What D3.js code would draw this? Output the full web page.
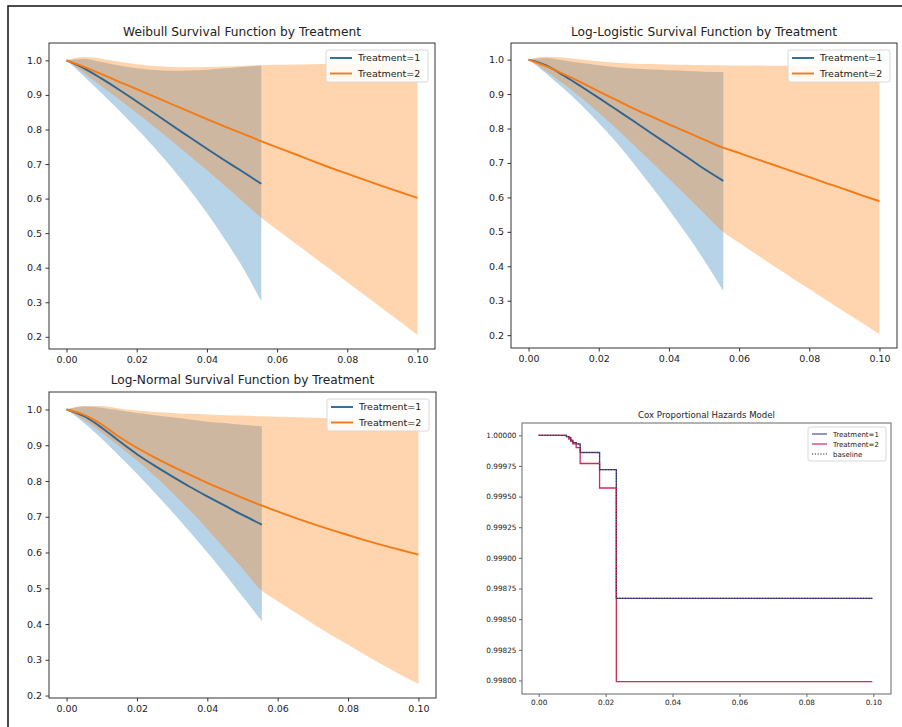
<!DOCTYPE html>
<html>
<head>
<meta charset="utf-8">
<script src="https://cdn.jsdelivr.net/npm/d3@7"></script>
<style>
  body { margin: 0; background: #fff; }
  text { font-family: "DejaVu Sans", sans-serif; fill: #222; }
</style>
</head>
<body>
<script>
// time grids (treatment 1 stops earlier)
const tT1 = [0, 0.005, 0.01, 0.015, 0.02, 0.025, 0.03, 0.035, 0.04, 0.045, 0.05, 0.0555]
const tT2 = [0, 0.005, 0.01, 0.015, 0.02, 0.025, 0.03, 0.035, 0.04, 0.045, 0.05,
             0.055, 0.06, 0.065, 0.07, 0.075, 0.08, 0.085, 0.09, 0.095, 0.1]

// Weibull
const wbT1   = [1.0, 0.977, 0.947, 0.915, 0.881, 0.847, 0.812, 0.778, 0.744, 0.711, 0.679, 0.643]
const wbT1Lo = [1.0, 0.953, 0.905, 0.855, 0.803, 0.748, 0.689, 0.626, 0.558, 0.484, 0.404, 0.302]
const wbT1Hi = [1.0, 1.005, 0.995, 0.985, 0.977, 0.972, 0.970, 0.971, 0.973, 0.977, 0.981, 0.985]
const wbT2   = [1.0, 0.981, 0.960, 0.938, 0.917, 0.895, 0.873, 0.852, 0.830, 0.809, 0.789,
                0.768, 0.748, 0.729, 0.709, 0.690, 0.672, 0.654, 0.636, 0.619, 0.602]
const wbT2Lo = [1.0, 0.963, 0.925, 0.887, 0.848, 0.808, 0.767, 0.725, 0.682, 0.638, 0.594,
                0.549, 0.510, 0.472, 0.434, 0.396, 0.358, 0.320, 0.282, 0.244, 0.205]
const wbT2Hi = [1.0, 1.010, 1.005, 0.996, 0.989, 0.984, 0.981, 0.980, 0.981, 0.982, 0.984,
                0.986, 0.987, 0.988, 0.989, 0.990, 0.990, 0.991, 0.992, 0.992, 0.993]

// Log-Logistic
const llT1   = [1.0, 0.983, 0.954, 0.922, 0.889, 0.855, 0.821, 0.786, 0.752, 0.718, 0.683, 0.648]
const llT1Lo = [1.0, 0.960, 0.916, 0.868, 0.816, 0.760, 0.698, 0.632, 0.564, 0.494, 0.418, 0.328]
const llT1Hi = [1.0, 1.005, 0.998, 0.990, 0.984, 0.978, 0.974, 0.971, 0.969, 0.967, 0.965, 0.964]
const llT2   = [1.0, 0.981, 0.958, 0.934, 0.908, 0.883, 0.858, 0.835, 0.812, 0.790, 0.768,
                0.746, 0.729, 0.711, 0.694, 0.676, 0.659, 0.641, 0.624, 0.606, 0.589]
const llT2Lo = [1.0, 0.966, 0.929, 0.889, 0.846, 0.800, 0.752, 0.703, 0.654, 0.604, 0.554,
                0.504, 0.468, 0.434, 0.400, 0.367, 0.334, 0.301, 0.268, 0.236, 0.203]
const llT2Hi = [1.0, 1.008, 1.006, 1.000, 0.995, 0.991, 0.988, 0.987, 0.986, 0.985, 0.984,
                0.984, 0.983, 0.983, 0.982, 0.982, 0.981, 0.981, 0.980, 0.980, 0.979]

// Log-Normal
const lnT1   = [1.0, 0.981, 0.949, 0.911, 0.875, 0.843, 0.813, 0.784, 0.757, 0.731, 0.705, 0.678]
const lnT1Lo = [1.0, 0.962, 0.918, 0.870, 0.820, 0.768, 0.714, 0.658, 0.600, 0.540, 0.477, 0.408]
const lnT1Hi = [1.0, 1.008, 1.005, 0.998, 0.990, 0.984, 0.978, 0.972, 0.966, 0.962, 0.957, 0.953]
const lnT2   = [1.0, 0.985, 0.958, 0.923, 0.893, 0.866, 0.841, 0.818, 0.795, 0.774, 0.753,
                0.733, 0.715, 0.697, 0.680, 0.664, 0.649, 0.634, 0.620, 0.607, 0.594]
const lnT2Lo = [1.0, 0.970, 0.935, 0.897, 0.857, 0.815, 0.768, 0.718, 0.665, 0.610, 0.555,
                0.497, 0.464, 0.432, 0.401, 0.371, 0.342, 0.313, 0.285, 0.258, 0.232]
const lnT2Hi = [1.0, 1.010, 1.010, 1.003, 0.997, 0.993, 0.990, 0.988, 0.986, 0.984, 0.983,
                0.981, 0.980, 0.978, 0.977, 0.976, 0.975, 0.973, 0.972, 0.971, 0.970]

// Cox PH step curves
const coxTimes = [0, 0.0083, 0.0090, 0.0096, 0.0102, 0.0112, 0.0124, 0.0182, 0.0232, 0.0997]
const coxT1    = [1.0, 0.99999, 0.99998, 0.99996, 0.99994, 0.99993, 0.99986, 0.99972, 0.99867, 0.99867]
const coxT2    = [1.0, 0.99999, 0.99997, 0.99995, 0.99993, 0.99990, 0.99977, 0.99957, 0.99799, 0.99799]
const coxBase  = [1.0, 0.99999, 0.99998, 0.99996, 0.99994, 0.99993, 0.99986, 0.99972, 0.99867, 0.99867]

const xTicks = [0, 0.02, 0.04, 0.06, 0.08, 0.1]
const yTicks = [0.2, 0.3, 0.4, 0.5, 0.6, 0.7, 0.8, 0.9, 1.0]
const coxYTicks = [0.998, 0.99825, 0.9985, 0.99875, 0.999, 0.99925, 0.9995, 0.99975, 1.0]
const legendLabels = ["Treatment=1", "Treatment=2"]

const blue = "#1f77b4", orange = "#ff7f0e"

const svg = d3.select("body").append("svg")
    .attr("width", 902)
    .attr("height", 727)

// outer frame of the screenshot
svg.append("rect")
    .attr("x", 8).attr("y", 6)
    .attr("width", 1000).attr("height", 1000)
    .attr("fill", "none")
    .attr("stroke", "#111")
    .attr("stroke-width", 1.5)

// matplotlib-like 5% padding
function pad(ext) {
    const m = (ext[1] - ext[0]) * 0.05
    return [ext[0] - m, ext[1] + m]
}

let clipId = 0

function axesFrame(box, x, y, opt) {
    const g = svg.append("g")
    g.append("g")
        .attr("transform", "translate(0," + box.bottom + ")")
        .call(d3.axisBottom(x).tickValues(opt.xTicks).tickFormat(opt.xFmt)
            .tickSize(opt.tick).tickPadding(opt.pad))
        .call(a => a.select(".domain").remove())
        .call(a => a.selectAll("line").attr("stroke", opt.spine))
        .call(a => a.selectAll("text").style("font-size", opt.fs + "px").attr("fill", "#222"))
    g.append("g")
        .attr("transform", "translate(" + box.left + ",0)")
        .call(d3.axisLeft(y).tickValues(opt.yTicks).tickFormat(opt.yFmt)
            .tickSize(opt.tick).tickPadding(opt.pad))
        .call(a => a.select(".domain").remove())
        .call(a => a.selectAll("line").attr("stroke", opt.spine))
        .call(a => a.selectAll("text").style("font-size", opt.fs + "px").attr("fill", "#222"))
    g.append("rect")
        .attr("x", box.left).attr("y", box.top)
        .attr("width", box.right - box.left).attr("height", box.bottom - box.top)
        .attr("fill", "none")
        .attr("stroke", opt.spine)
        .attr("stroke-width", 1)
    svg.append("text")
        .attr("x", (box.left + box.right) / 2)
        .attr("y", opt.titleY)
        .attr("text-anchor", "middle")
        .style("font-size", opt.titleFs + "px")
        .text(opt.title)
}

function legend(items, o) {
    const g = svg.append("g")
    g.append("rect")
        .attr("x", o.right - o.w).attr("y", o.top)
        .attr("width", o.w).attr("height", o.h)
        .attr("rx", 2)
        .attr("fill", "#fff").attr("fill-opacity", 0.85)
        .attr("stroke", "#d8d8d8")
    items.forEach((it, i) => {
        const cy = o.top + o.first + i * o.step
        g.append("line")
            .attr("x1", o.right - o.w + o.hx0).attr("x2", o.right - o.w + o.hx1)
            .attr("y1", cy).attr("y2", cy)
            .attr("stroke", it.color)
            .attr("stroke-width", o.lw)
            .attr("stroke-dasharray", it.dash || null)
        g.append("text")
            .attr("x", o.right - o.w + o.tx)
            .attr("y", cy + o.fs * 0.36)
            .style("font-size", o.fs + "px")
            .text(it.label)
    })
}

function survivalPanel(p) {
    const box = p.box
    const yExt = d3.extent(p.t1Lo.concat(p.t1Hi, p.t2Lo, p.t2Hi))
    const x = d3.scaleLinear().domain(pad([0, 0.1])).range([box.left, box.right])
    const y = d3.scaleLinear().domain(pad(yExt)).range([box.bottom, box.top])

    const id = "clip" + (clipId++)
    svg.append("clipPath").attr("id", id)
        .append("rect")
        .attr("x", box.left).attr("y", box.top)
        .attr("width", box.right - box.left).attr("height", box.bottom - box.top)
    const plot = svg.append("g").attr("clip-path", "url(#" + id + ")")

    const area = d3.area().curve(d3.curveMonotoneX)
        .x(d => x(d[0])).y0(d => y(d[1])).y1(d => y(d[2]))
    const line = d3.line().curve(d3.curveMonotoneX).x(d => x(d[0])).y(d => y(d[1]))

    const s1 = d3.zip(tT1, p.t1Lo, p.t1Hi)
    const s2 = d3.zip(tT2, p.t2Lo, p.t2Hi)

    plot.append("path").attr("d", area(s1)).attr("fill", blue).attr("fill-opacity", 0.32)
    plot.append("path").attr("d", area(s2)).attr("fill", orange).attr("fill-opacity", 0.33)
    plot.append("path").attr("d", line(d3.zip(tT1, p.t1)))
        .attr("fill", "none").attr("stroke", "#2f6590").attr("stroke-width", 1.9)
    plot.append("path").attr("d", line(d3.zip(tT2, p.t2)))
        .attr("fill", "none").attr("stroke", "#f47a14").attr("stroke-width", 1.9)

    axesFrame(box, x, y, {
        xTicks: xTicks, yTicks: yTicks,
        xFmt: d3.format(".2f"), yFmt: d3.format(".1f"),
        tick: 3.5, pad: 3.5, fs: 9.5, spine: "#333",
        title: p.title, titleY: p.titleY, titleFs: 12.2
    })

    legend([
        { label: legendLabels[0], color: "#2b6a98" },
        { label: legendLabels[1], color: "#f07a18" }
    ], { right: box.right - 7, top: box.top + 7, w: 102, h: 32, first: 8, step: 15.5,
         hx0: 4, hx1: 26, tx: 32, fs: 9.5, lw: 1.9 })
}

survivalPanel({
    title: "Weibull Survival Function by Treatment", titleY: 36,
    box: { left: 49, right: 435, top: 43, bottom: 349 },
    t1: wbT1, t1Lo: wbT1Lo, t1Hi: wbT1Hi, t2: wbT2, t2Lo: wbT2Lo, t2Hi: wbT2Hi
})
survivalPanel({
    title: "Log-Logistic Survival Function by Treatment", titleY: 36,
    box: { left: 511, right: 897, top: 43, bottom: 348 },
    t1: llT1, t1Lo: llT1Lo, t1Hi: llT1Hi, t2: llT2, t2Lo: llT2Lo, t2Hi: llT2Hi
})
survivalPanel({
    title: "Log-Normal Survival Function by Treatment", titleY: 384,
    box: { left: 49, right: 436, top: 392, bottom: 698 },
    t1: lnT1, t1Lo: lnT1Lo, t1Hi: lnT1Hi, t2: lnT2, t2Lo: lnT2Lo, t2Hi: lnT2Hi
})

// Cox proportional hazards panel
const coxBox = { left: 522, right: 891, top: 423, bottom: 694 }
const cx = d3.scaleLinear().domain(pad(d3.extent(coxTimes))).range([coxBox.left, coxBox.right - 2])
const cy = d3.scaleLinear().domain(pad(d3.extent(coxT1.concat(coxT2)))).range([coxBox.bottom, coxBox.top])
const step = d3.line().curve(d3.curveStepAfter).x(d => cx(d[0])).y(d => cy(d[1]))

svg.append("path").attr("d", step(d3.zip(coxTimes, coxT1)))
    .attr("fill", "none").attr("stroke", "#4b4f9c").attr("stroke-width", 1.3)
svg.append("path").attr("d", step(d3.zip(coxTimes, coxT2)))
    .attr("fill", "none").attr("stroke", "#d3285a").attr("stroke-width", 1.3)
svg.append("path").attr("d", step(d3.zip(coxTimes, coxBase)))
    .attr("fill", "none").attr("stroke", "#2a2c48").attr("stroke-width", 1.1)
    .attr("stroke-dasharray", "1.2,1.6")

axesFrame(coxBox, cx, cy, {
    xTicks: xTicks, yTicks: coxYTicks,
    xFmt: d3.format(".2f"), yFmt: d3.format(".5f"),
    tick: 3, pad: 2.5, fs: 7.3, spine: "#666",
    title: "Cox Proportional Hazards Model", titleY: 418, titleFs: 8.6
})

legend([
    { label: "Treatment=1", color: "#4b4f9c" },
    { label: "Treatment=2", color: "#d3285a" },
    { label: "baseline", color: "#2a2c48", dash: "1.2,1.6" }
], { right: coxBox.right - 5, top: coxBox.top + 4, w: 78, h: 34, first: 7, step: 10,
     hx0: 4, hx1: 19, tx: 25, fs: 7, lw: 1.2 })
</script>
</body>
</html>
